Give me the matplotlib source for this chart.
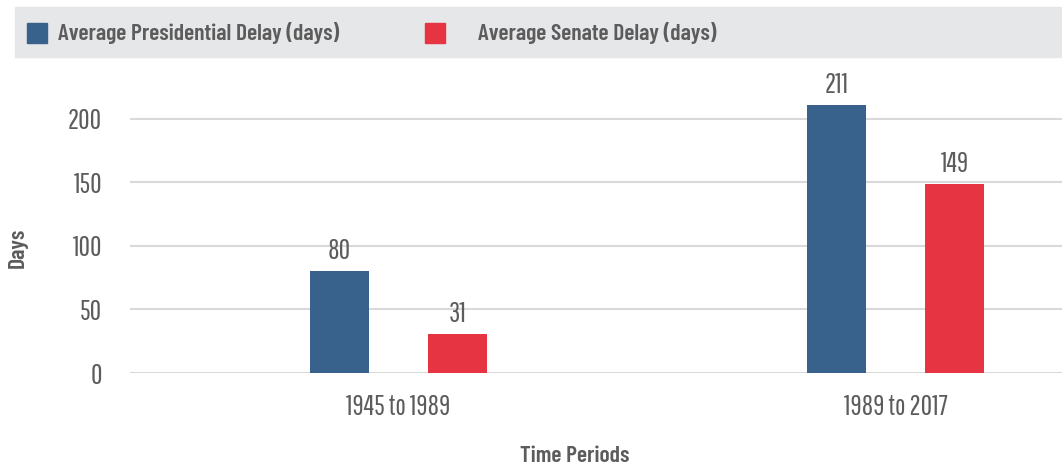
import matplotlib
matplotlib.use('Agg')
import matplotlib.pyplot as plt
from matplotlib.patches import Rectangle
import numpy as np

# data
periods = ['1945 to 1989', '1989 to 2017']
presidential = [80, 211]
senate = [31, 149]
series_names = ['Average Presidential Delay (days)', 'Average Senate Delay (days)']
yticks = [0, 50, 100, 150, 200]

blue = '#38618c'
red = '#e63443'
text_col = '#5c5c5c'
grid_col = '#d9d9d9'
reg_font = 'Pathway Gothic One'
bold_font = 'Barlow Condensed'

W, H = 1062, 468
fig = plt.figure(figsize=(W / 100, H / 100), dpi=100)
ax = fig.add_axes([130 / W, 1 - 373 / H, 1 - 130 / W, (373 - 68) / H])

x = np.arange(len(periods))
w = 0.119
b1 = ax.bar(x - w, presidential, w, color=blue, zorder=3)
b2 = ax.bar(x + w, senate, w, color=red, zorder=3)
for bars in (b1, b2):
    for r in bars:
        ax.annotate(str(int(r.get_height())), (r.get_x() + r.get_width() / 2, r.get_height()),
                    xytext=(0, 5), textcoords='offset points', ha='center', va='bottom',
                    fontsize=20, color=text_col, family=reg_font)

ax.set_xlim(-0.54, 1.335)
ax.set_ylim(0, 240)
ax.set_yticks(yticks)
ax.set_xticks(x)
ax.set_xticklabels(periods)
ax.yaxis.grid(True, color=grid_col, lw=1.5, zorder=0)
ax.tick_params(length=0, labelsize=20, labelcolor=text_col)
ax.tick_params(axis='y', pad=20)
ax.tick_params(axis='x', pad=15)
for lab in ax.get_xticklabels() + ax.get_yticklabels():
    lab.set_family(reg_font)
for s in ax.spines.values():
    s.set_visible(False)

fig.text(18 / W, 1 - 248 / H, 'Days', rotation=90, ha='center', va='center',
         fontsize=17, fontweight=600, color=text_col, family=bold_font)
fig.text(575 / W, 1 - 456 / H, 'Time Periods', ha='center', va='center',
         fontsize=17, fontweight=600, color=text_col, family=bold_font)

# legend band
fig.patches.append(Rectangle((15 / W, 1 - 57 / H), 1 - 15 / W, 50 / H, transform=fig.transFigure,
                             color='#e6e7e9', zorder=0))
for sx, tx, c, name in [(27, 58, blue, series_names[0]), (425, 478, red, series_names[1])]:
    fig.patches.append(Rectangle((sx / W, 1 - 43 / H), 20 / W, 20 / H, transform=fig.transFigure,
                                 color=c, zorder=1))
    fig.text(tx / W, 1 - 33 / H, name, ha='left', va='center', fontsize=17,
             fontweight=600, color=text_col, family=bold_font)

fig.savefig('out.png', dpi=100)
